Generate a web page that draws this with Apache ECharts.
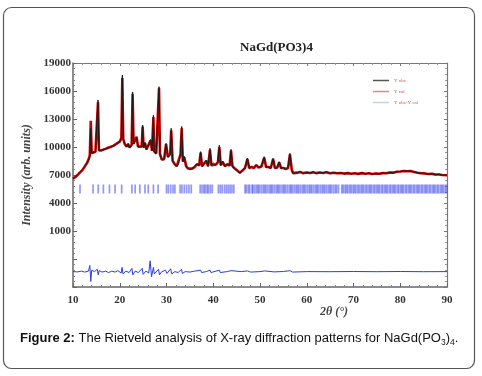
<!DOCTYPE html>
<html>
<head>
<meta charset="utf-8">
<script src="https://cdn.jsdelivr.net/npm/echarts@6/dist/echarts.min.js"></script>
<style>
  html, body { margin: 0; padding: 0; background: #fff; }
  #chart { width: 482px; height: 376px; }
</style>
</head>
<body>
<div id="chart"></div>
<script>
// 2theta grid of the measured profile
var twoTheta = [
  10, 10.5, 11, 11.5, 12, 12.5, 13, 13.3, 13.6, 13.8,
  14.0, 14.4, 14.8, 15.15, 15.35, 15.55, 16, 16.5, 17, 17.5,
  18, 18.6, 19, 19.5, 20, 20.35, 20.55, 20.75, 21.1, 21.5,
  21.8, 22.1, 22.55, 22.75, 22.95, 23.3, 23.6, 23.9, 24.3, 24.7,
  24.9, 25.1, 25.4, 25.7, 26.1, 26.6, 26.9, 27.05, 27.2, 27.35,
  27.8, 28.2, 28.4, 28.6, 29, 29.5, 29.9, 30.3, 30.8, 31.0,
  31.3, 31.7, 32.2, 32.6, 33.0, 33.25, 33.5, 33.8, 34.2, 34.6,
  35, 35.5, 36, 36.5, 37.0, 37.3, 37.6, 38, 38.5, 38.9,
  39.3, 39.6, 40, 40.5, 41, 41.3, 41.6, 42, 42.5, 43,
  43.5, 43.8, 44.1, 44.6, 45.2, 45.7, 46.2, 46.8, 47.3, 47.7,
  48.2, 48.7, 49.2, 49.7, 50.3, 50.9, 51.3, 51.8, 52.3, 52.8,
  53.2, 53.7, 54.1, 54.5, 55, 55.5, 56, 56.4, 56.8, 57.1,
  57.5, 58, 58.6, 59.2, 60, 60.7, 61.4, 62, 62.8, 63.5,
  64.2, 65, 65.8, 66.5, 67.3, 68, 68.8, 69.5, 70.3, 71,
  71.8, 72.5, 73.3, 74, 74.8, 75.5, 76.3, 77, 77.8, 78.5,
  79.3, 80, 80.8, 81.5, 82.2, 83, 83.7, 84.5, 85.2, 86,
  86.8, 87.5, 88.3, 89, 90
]
// observed intensity
var yObs = [
  6650, 6800, 7050, 7300, 7550, 7900, 8300, 8600, 9000, 12000,
  9300, 9400, 9500, 9600, 15040, 9600, 9650, 9700, 9850, 9900,
  10000, 10100, 10300, 10400, 10600, 10900, 17700, 10800, 10300, 10000,
  10400, 9900, 10200, 15900, 10300, 10200, 11000, 10000, 9900, 10000,
  12360, 9900, 10500, 9700, 9600, 10800, 9600, 9700, 13400, 9500,
  9300, 9400, 16460, 9200, 8600, 8700, 10400, 8900, 9200, 12000,
  8500, 8200, 7900, 8200, 9300, 12200, 8400, 9000, 7900, 7700,
  7550, 7700, 7900, 8200, 8000, 9500, 7900, 7800, 8600, 7900,
  9860, 8000, 8300, 8100, 8400, 10200, 8000, 8500, 7900, 8200,
  8000, 9750, 7900, 7700, 7400, 7200, 7500, 7800, 8800, 7700,
  7900, 7700, 8100, 7800, 7900, 8960, 7800, 7900, 7700, 8790,
  7700, 7800, 8430, 7700, 7800, 7600, 7800, 9320, 7500, 7180,
  7350, 7250, 7360, 7150, 7300, 7200, 7350, 7150, 7300, 7200,
  7350, 7150, 7280, 7150, 7250, 7100, 7250, 7100, 7200, 7100,
  7250, 7100, 7200, 7050, 7200, 7100, 7250, 7150, 7300, 7200,
  7400, 7350, 7450, 7400, 7450, 7300, 7250, 7150, 7200, 7050,
  7150, 7000, 7100, 6950, 7000
]
// calculated intensity
var yCalc = [
  6600, 6780, 7000, 7280, 7520, 7900, 8280, 8620, 9100, 12800,
  9350, 9420, 9480, 9650, 14800, 9650, 9620, 9720, 9800, 9920,
  10000, 10120, 10250, 10420, 10580, 10950, 17400, 10850, 10280, 10050,
  10300, 9950, 10250, 15700, 10350, 10150, 11100, 10050, 9900, 10050,
  12200, 9950, 10400, 9750, 9650, 10700, 9600, 9750, 13200, 9550,
  9300, 9450, 16300, 9250, 8650, 8700, 10300, 8950, 9250, 11800,
  8550, 8200, 7950, 8150, 9200, 12000, 8450, 8900, 7950, 7700,
  7600, 7680, 7850, 8150, 8050, 9400, 7950, 7800, 8500, 7950,
  9700, 8050, 8250, 8100, 8350, 10000, 8050, 8400, 7950, 8150,
  8000, 9600, 7950, 7700, 7450, 7250, 7450, 7750, 8700, 7750,
  7850, 7750, 8050, 7800, 7900, 8850, 7850, 7850, 7750, 8700,
  7750, 7800, 8350, 7750, 7750, 7650, 7750, 9200, 7550, 7200,
  7300, 7250, 7320, 7200, 7270, 7220, 7300, 7200, 7260, 7220,
  7300, 7180, 7250, 7180, 7220, 7150, 7200, 7130, 7180, 7120,
  7200, 7130, 7180, 7100, 7160, 7130, 7200, 7180, 7260, 7250,
  7350, 7380, 7420, 7400, 7420, 7320, 7250, 7180, 7170, 7100,
  7120, 7050, 7060, 7000, 6980
]
// difference curve (shifted down), [2theta, value]
var diffCurve = [
  [10, -3350], [11, -3380], [11.8, -3300], [12.5, -3400], [13.3, -3300],
  [13.6, -2700], [13.8, -4400], [14.0, -3200], [14.6, -3350], [15.2, -3100],
  [15.4, -3700], [15.6, -3250], [16.2, -3400], [17, -3300], [17.6, -3450],
  [18.3, -3300], [19, -3400], [19.6, -3250], [20.3, -3500], [20.5, -2900],
  [20.7, -3600], [21.3, -3300], [22, -3450], [22.6, -3000], [22.8, -3700],
  [23.3, -3300], [24, -3450], [24.8, -3000], [25.0, -3650], [25.6, -3300],
  [26.2, -3500], [26.5, -2200], [26.8, -3900], [27.2, -2900], [27.4, -3600],
  [28.3, -3100], [28.5, -3700], [29, -3350], [29.8, -3200], [30.1, -3550],
  [30.9, -3050], [31.1, -3600], [31.8, -3350], [32.5, -3450], [33.2, -3100],
  [33.4, -3550], [34, -3350], [35, -3400], [36, -3300], [37.3, -3200],
  [37.5, -3450], [38.5, -3350], [39.3, -3200], [39.5, -3450], [41.3, -3200],
  [41.5, -3450], [43, -3350], [43.8, -3250], [44.2, -3420], [46, -3350],
  [47.3, -3280], [48, -3400], [50, -3350], [51, -3280], [53, -3380],
  [55, -3340], [56.4, -3250], [57, -3400], [60, -3350], [65, -3360],
  [70, -3340], [75, -3360], [80, -3340], [85, -3360], [90, -3350]
]
// Bragg reflection positions
var braggPos = [
  11.5, 14.3, 15.4, 16.5, 17.8, 19.0, 20.4, 22.6, 23.3, 24.3, 25.4, 26.1, 27.2, 28.2,
  30.0, 30.4, 30.9, 31.4, 31.8, 32.9, 33.3, 33.8, 34.3, 34.8, 35.3,
  37.2, 37.6, 38.0, 38.3, 38.7, 39.0, 39.4, 39.8,
  41.1, 41.5, 41.9, 42.4, 42.8, 43.2, 43.6, 44.0, 44.4,
  46.8, 47.1, 47.5, 47.8, 48.3, 48.5, 48.9, 49.3, 49.6, 49.9, 50.3, 50.7, 51.0, 51.3,
  51.7, 52.1, 52.4, 52.7, 53.1, 53.5, 53.8, 54.1, 54.5, 54.9, 55.2, 55.5, 55.9, 56.3,
  56.6, 56.9, 57.3, 57.7, 58.0, 58.3, 58.7, 59.1, 59.4, 59.7, 60.1, 60.5, 60.8, 61.1,
  61.5, 61.9, 62.2, 62.5, 62.9, 63.3, 63.6, 63.9, 64.3, 64.7, 65.0, 65.3, 65.7, 66.1,
  66.4, 66.8,
  67.5, 67.8, 68.2, 68.5, 68.8, 69.2, 69.5, 69.9, 70.2, 70.5, 70.9, 71.2, 71.6, 71.9,
  72.2, 72.6, 72.9, 73.3, 73.6, 73.9, 74.3, 74.6, 75.0, 75.3, 75.6, 76.0, 76.3, 76.7,
  77.0, 77.3, 77.7, 78.0, 78.4, 78.7, 79.0, 79.4, 79.7, 80.1, 80.4, 80.7, 81.1, 81.4,
  81.8, 82.1, 82.4, 82.8, 83.1, 83.5, 83.8, 84.1, 84.5, 84.8, 85.2, 85.5, 85.8, 86.2,
  86.5, 86.9, 87.2, 87.5, 87.9, 88.2, 88.6, 88.9, 89.2, 89.6, 89.9
]
var braggLevel = 5500
var xTicks = [10, 20, 30, 40, 50, 60, 70, 80, 90]
var yTicks = [1000, 4000, 7000, 10000, 13000, 16000, 19000]

var chart = echarts.init(document.getElementById('chart'))

var obsData = twoTheta.map(function (t, i) { return [t, yObs[i]] })
var calcData = twoTheta.map(function (t, i) { return [t, yCalc[i]] })
var braggData = braggPos.map(function (t) { return [t, braggLevel] })

var serif = '"Liberation Serif", "DejaVu Serif", serif'
var sans = '"Liberation Sans", Arial, sans-serif'

var option = {
  animation: false,
  backgroundColor: '#fff',
  grid: { left: 73, right: 35, top: 63, bottom: 89 },
  legend: {
    orient: 'vertical',
    left: 368,
    top: 73,
    itemWidth: 16,
    itemHeight: 1.5,
    itemGap: 6,
    icon: 'rect',
    textStyle: { fontSize: 5, color: '#c55', fontFamily: serif },
    data: [
      { name: 'Y obs', itemStyle: { color: '#555' } },
      { name: 'Y cal', itemStyle: { color: '#f08080' } },
      { name: 'Y obs-Y cal', itemStyle: { color: '#c8cede' } }
    ]
  },
  xAxis: [
    {
      type: 'value', min: 10, max: 90, interval: 10,
      axisLine: { onZero: false, lineStyle: { color: '#666', width: 1.5 } },
      axisTick: { inside: true, length: 4, lineStyle: { color: '#666' } },
      minorTick: { show: true, splitNumber: 5, length: 2, lineStyle: { color: '#888' } },
      splitLine: { show: false },
      axisLabel: {
        margin: 8, color: '#333', fontFamily: serif, fontWeight: 'bold', fontSize: 11,
        formatter: function (v) { return xTicks.indexOf(v) >= 0 ? v : '' }
      }
    },
    {
      type: 'value', min: 10, max: 90, interval: 10, position: 'top',
      axisLine: { show: true, onZero: false, lineStyle: { color: '#777', width: 1.2 } },
      axisTick: { inside: true, length: 3, lineStyle: { color: '#777' } },
      minorTick: { show: true, splitNumber: 5, length: 2, lineStyle: { color: '#999' } },
      splitLine: { show: false },
      axisLabel: { show: false }
    }
  ],
  yAxis: [
    {
      type: 'value', min: -5000, max: 19000, interval: 3000,
      name: 'Intensity (arb. units)',
      nameLocation: 'middle', nameGap: 37,
      nameTextStyle: { fontFamily: serif, fontStyle: 'italic', fontWeight: 'bold', fontSize: 12, color: '#444' },
      axisLine: { show: true, onZero: false, lineStyle: { color: '#666', width: 1.5 } },
      axisTick: { inside: true, length: 4, lineStyle: { color: '#666' } },
      minorTick: { show: true, splitNumber: 5, length: 2, lineStyle: { color: '#888' } },
      splitLine: { show: false },
      axisLabel: {
        margin: 2, color: '#333', fontFamily: serif, fontWeight: 'bold', fontSize: 11,
        formatter: function (v) { return yTicks.indexOf(v) >= 0 ? v : '' }
      }
    },
    {
      type: 'value', min: -5000, max: 19000, interval: 3000, position: 'right',
      axisLine: { show: true, onZero: false, lineStyle: { color: '#777', width: 1.2 } },
      axisTick: { inside: true, length: 3, lineStyle: { color: '#777' } },
      minorTick: { show: true, splitNumber: 5, length: 2, lineStyle: { color: '#999' } },
      splitLine: { show: false },
      axisLabel: { show: false }
    }
  ],
  series: [
    {
      name: 'Y cal', type: 'line', data: calcData,
      showSymbol: false, z: 2,
      lineStyle: { color: '#c80000', width: 2.6 },
      itemStyle: { color: '#c80000' }
    },
    {
      name: 'Y obs', type: 'line', data: obsData,
      showSymbol: false, z: 3,
      lineStyle: { color: '#1a1a1a', width: 1 },
      itemStyle: { color: '#1a1a1a' }
    },
    {
      name: 'Bragg', type: 'scatter', data: braggData,
      symbol: 'rect', symbolSize: [1.7, 9], z: 1,
      itemStyle: { color: 'rgba(30,40,235,0.6)' }
    },
    {
      name: 'Y obs-Y cal', type: 'line', data: diffCurve,
      showSymbol: false, z: 2,
      lineStyle: { color: '#2a3ee0', width: 1 },
      itemStyle: { color: '#2a3ee0' }
    }
  ],
  graphic: [
    {
      type: 'rect', silent: true,
      shape: { x: 3.5, y: 7.5, width: 471, height: 361, r: 8 },
      style: { fill: 'none', stroke: '#555', lineWidth: 1.2 }
    },
    {
      type: 'text', left: 240, top: 41,
      style: { text: 'NaGd(PO3)4', font: 'bold 13px ' + serif, fill: '#222' }
    },
    {
      type: 'text', left: 320, top: 306,
      style: { text: '2θ (°)', font: 'italic bold 12px ' + serif, fill: '#444' }
    },
    {
      type: 'text', left: 20, top: 332,
      style: {
        text: '{b|Figure 2:} The Rietveld analysis of X-ray diffraction patterns for NaGd(PO{s|3}){s|4}.',
        fontFamily: sans,
        fontSize: 13,
        fill: '#111',
        rich: {
          b: { fontWeight: 'bold', fontSize: 13, fontFamily: sans },
          s: { fontSize: 8.5, verticalAlign: 'bottom', padding: [8, 0, 0, 0], fontFamily: sans }
        }
      }
    }
  ]
}

chart.setOption(option)
</script>
</body>
</html>
